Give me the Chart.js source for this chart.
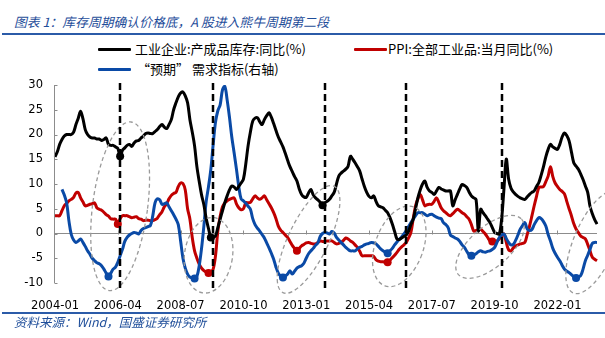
<!DOCTYPE html>
<html>
<head>
<meta charset="utf-8">
<script src="https://cdn.jsdelivr.net/npm/chart.js@4"></script>
<style>
  body { margin: 0; width: 605px; height: 338px; position: relative; overflow: hidden; background: #fff; }
  .txt { position: absolute; font-family: "Noto Sans CJK SC", sans-serif; white-space: nowrap; line-height: 16px; }
  .head { left: 14px; top: 14px; font-size: 12.8px; color: #1F4E9A; font-style: italic; }
  .foot { left: 14px; top: 314px; font-size: 12.5px; color: #1F4E9A; font-style: italic; }
  .rule { position: absolute; left: 2px; right: 0; height: 2px; background: #2B5BA8; }
  .key { position: absolute; width: 33px; height: 3px; border-radius: 1px; }
  .lab { font-size: 13px; color: #000; }
  #c { position: absolute; left: 0; top: 0; }
</style>
</head>
<body>
<div class="txt head">图表 1：库存周期确认价格底，A 股进入熊牛周期第二段</div>
<div class="rule" style="top:33px"></div>

<div class="key" style="left:98px;top:48px;background:#000"></div>
<div class="txt lab" style="left:135px;top:41px">工业企业:产成品库存:同比(%)</div>
<div class="key" style="left:354px;top:48px;background:#C00000"></div>
<div class="txt lab" style="left:388px;top:41px">PPI:全部工业品:当月同比(%)</div>
<div class="key" style="left:98px;top:68px;background:#0A4AA6"></div>
<div class="txt lab" style="left:137px;top:61px">“预期” 需求指标(右轴)</div>

<canvas id="c" width="605" height="338"></canvas>

<div class="rule" style="top:312px"></div>
<div class="txt foot">资料来源：Wind，国盛证券研究所</div>

<script>
// monthly, 2004-01 .. 2023-06
const months = [];
for (let yy = 2004; yy <= 2023; yy++) {
  for (let mm = 1; mm <= 12; mm++) {
    if (yy === 2023 && mm > 6) break;
    months.push(yy + '-' + String(mm).padStart(2, '0'));
  }
}
const tickLabels = ['2004-01', '2006-04', '2008-07', '2010-10', '2013-01', '2015-04', '2017-07', '2019-10', '2022-01'];

// 工业企业:产成品库存:同比
const inventory = [
  15.5, 16.5, 18, 19, 19.7, 20, 20, 20, 20.5, 22, 23.3, 24.7,
  23.2, 21, 20, 19.5, 19.3, 19.3, 19.1, 19.1, 18.8, 19, 19.3, 18,
  17.8, 17.8, 17.5, 17.2, 15.6, 16.8, 17.3, 17.8, 18, 17.6, 18.3, 18.7,
  18.8, 19.3, 19.7, 20.2, 20.3, 20.2, 20.2, 20.6, 21, 21.6, 22, 21.5,
  21.2, 22, 23, 25, 26.4, 27.6, 28.4, 28.6, 27.8, 26.4, 23, 20.5,
  17.7, 13.5, 10.5, 7.8, 5.8, 3, 1, -0.8, -0.8, -0.5, 1.2, 2.9,
  4.6, 6.2, 7.6, 8.8, 9.6, 9.4, 8.9, 9.5, 10.2, 11, 14, 17.7,
  20.5, 22.7, 23.3, 23.4, 22.6, 22, 23, 23.8, 24.4, 23.5, 22.2, 20.8,
  19.5, 18.5, 17.5, 16.2, 14.8, 13.5, 12.5, 11.5, 10.6, 9, 7.9, 7.4,
  7.3, 8.2, 8.9, 7.8, 7.2, 6.8, 6.3, 5.7, 6.2, 6.5, 6.9, 7.6,
  8.3, 10, 11.6, 12.2, 12.6, 13, 13.6, 15.6, 15, 14.3, 13.5, 12.6,
  11, 9.5, 8.3, 7.5, 7.2, 7.6, 6.5, 5.6, 5.4, 5.2, 4.7, 4.2,
  3.2, 1.9, 0.4, -1.1, -1.2, -0.9, -0.6, -0.3, 0.5, 1.8, 2.9, 5,
  7.2, 8.8, 10, 10.6, 9.3, 8.6, 8.3, 7.9, 8.6, 9.3, 9, 8.8,
  8.6, 8.6, 8.6, 5.6, 6.8, 7.9, 9, 9.9, 9.7, 9.3, 8.4, 7.6,
  7.2, 6.9, 0.5, 4.9, 4.2, 3.6, 2.9, 2.2, 1.2, 0.2, 0, -0.1,
  2.9, 9, 15, 11, 9.2, 8.4, 7.9, 7.5, 7.2, 7, 6.9, 7.4,
  7.9, 8.3, 8.6, 9.5, 10.3, 11.8, 13.5, 15.5, 17, 18, 17.5, 17.2,
  17, 18, 19.5, 20.3, 19.8, 18.7, 16.5, 14.3, 13.6, 13, 12, 10.9,
  9.6, 8.3, 5.5, 4, 2.8, 1.9
];

// PPI:全部工业品:当月同比
const ppi = [
  3.6, 3.6, 3.6, 4.6, 5.6, 6.1, 6.6, 6.9, 7.3, 8.2, 8.3, 7.2,
  6.4, 5.6, 5.7, 5.9, 6, 6.2, 5.2, 4.9, 4.7, 4.3, 3.8, 3.5,
  3, 2.9, 2.9, 1.9, 3, 3.6, 3.6, 3.6, 3.4, 3.2, 3.3, 3.4,
  3, 2.9, 2.6, 2.7, 2.7, 2.6, 2.6, 2.8, 3.1, 3.8, 4.4, 5.4,
  6, 7, 7.7, 8.1, 8.3, 9.5, 10.2, 10.1, 8.8, 5, 2.9, -0.8,
  -3.5, -5, -6.2, -7, -7.5, -7.8, -8, -7.8, -7.2, -4.5, 0.5, 3.5,
  5.4, 6.2, 6.6, 6.9, 7.1, 7.2, 6, 5.2, 4.8, 5, 6.2, 6.2,
  6.3, 7, 7.6, 7.2, 6.9, 7.2, 7.6, 6.8, 6, 5.2, 4.2, 3,
  1.5, 0.7, 0.2, -0.3, -0.8, -1.6, -2.4, -3, -3.5, -3, -2.5, -2.2,
  -1.9, -1.8, -2, -2.1, -2.1, -1.8, -1.5, -1.6, -1.6, -1.5, -1.5, -1.5,
  -1.8, -2.1, -2, -1.8, -1.4, -0.9, -1.1, -1.5, -1.8, -2.3, -2.8, -3.6,
  -4.5, -4.5, -4.5, -4.5, -4.5, -4.6, -5.3, -5.6, -5.7, -5.7, -5.8, -5.8,
  -5.4, -4.9, -4.4, -3.8, -3.2, -2.7, -2.3, -1.8, -0.9, 0.2, 3, 5.6,
  7, 7.9, 6.8, 5.6, 5.8, 5.9, 5.9, 6.5, 7.2, 6.3, 5.2, 4.6,
  4.2, 3.8, 3.6, 4, 4.5, 4.9, 4.6, 4.2, 3.9, 3.4, 2.9, 1.8,
  0.5, 0.6, 0.8, 0.9, 0.4, -0.1, -0.8, -1.5, -1.6, -1.8, -1.5, -1.1,
  -0.5, -0.1, -1.8, -3.3, -3.5, -2.9, -2.5, -2.3, -2.1, -2, -1.8, -0.2,
  1.5, 3.5, 5.6, 7.5, 9.3, 9.4, 9.5, 10.5, 11.6, 13.5, 11.5, 10.2,
  9.5, 8.9, 8.5, 8, 6.5, 5, 3.6, 2, 0.9, 0.2, -0.5, -0.8,
  -1.1, -2.2, -3.5, -4.8, -5.2, -5.5
];

// “预期”需求指标(右轴)
const demand = [
  null, null, null, 8.9, 7.8, 6.2, 2.5, -0.2, -1.3, -1.8, -1.5, -1.1,
  -1.8, -2.6, -3.5, -4.2, -5, -5.5, -5.9, -6.1, -6.5, -7.2, -8, -8.7,
  -8, -7.2, -6.8, -5.8, -4.5, -3.2, -1.6, -0.8, -0.3, 0, 0.2, 0.1,
  -0.1, 0.6, 1, 1.2, 1.4, 1.6, 3.5, 6.2, 7, 6.8, 5.9, 6,
  6.2, 5.4, 4.6, 3.8, 2.9, 1.8, -1.5, -5, -7, -8.2, -8.8, -9,
  -9.1, -8.7, -6.5, -3, 1.5, 6.5, 9.5, 13, 18, 22.5, 24.8, 26,
  29, 29.7, 27, 23.5, 19.5, 16.3, 13, 9.5, 7, 6.6, 6.1, 5.5,
  4.9, 3, 1.8, 1.1, 0.5, -0.2, -0.9, -1.9, -2.9, -4, -5.2, -6.8,
  -8, -8.6, -8.9, -8.6, -8.2, -7.5, -8.2, -7.6, -7, -6.7, -6.5, -6,
  -5, -4.1, -3.5, -3, -2.4, -1.9, -0.6, 0, 0.2, 0.1, -0.1, 0.4,
  0.1, -0.8, -1.3, -1.8, -2.3, -2.8, -3.2, -3.5, -3.5, -3.5, -3.1, -2.8,
  -2.6, -2.3, -2.1, -2, -1.8, -1.9, -2.1, -2.6, -3.1, -3.5, -3.8, -4,
  -3.5, -3, -2.3, -1.7, -1.2, -0.7, -0.1, 0.6, 1.4, 2.2, 2.9, 3.6,
  4.2, 4.2, 4.2, 3.9, 3.6, 3.8, 3.9, 3.6, 3.3, 3.1, 3, 2.2,
  1.8, 1.2, -0.3, -0.6, -0.9, -1.1, -1.6, -2.3, -2.8, -3.6, -4.3, -4.5,
  -4.3, -4.1, -3.7, -3.5, -3.7, -3.8, -3.6, -3.5, -3.2, -2.8, -1.8, -0.8,
  -0.3, -0.1, -1, -1.8, -2.3, -2.2, -1.4, -0.3, 0.9, 1.6, 2.2, 0.9,
  0.6, 0.8, 1.8, 2.6, 3.2, 3, 2.4, 1.5, -0.2, -1.5, -3, -4,
  -4.8, -5.5, -6.4, -7.2, -7.6, -7.9, -8.3, -8.7, -9, -8.8, -8.5, -7.2,
  -5.5, -4.4, -3.2, -2, -1.8, -1.8
];

// marked troughs (month index) for each series
const inventoryLows = [28, 67, 115];
const ppiLows = [27, 66, 104, 143, 188];
const demandLows = [23, 60, 98, 143, 179, 224];

// dashed cycle lines (month index)
const cycleMarks = [28, 68, 116, 151, 192];

// dashed rings around the troughs: anchored at month index / value
const rings = [
  { at: 28, value: 5.5, rx: 27.5, ry: 85, rot: 0.13 },
  { at: 66, value: -4.4, rx: 24, ry: 38, rot: 0.15 },
  { at: 109, value: -1.2, rx: 20, ry: 59, rot: 0.45 },
  { at: 148, value: -2.6, rx: 24, ry: 42, rot: 0.35 },
  { at: 187, value: -2.7, rx: 42, ry: 20, rot: -0.72 },
  { at: 232, value: -1.8, rx: 21, ry: 55, rot: 0.4 }
];

const dot = lows => ctx => lows.includes(ctx.dataIndex) ? 4 : 0;

const overlay = {
  id: 'overlay',
  afterDatasetsDraw(chart) {
    const { ctx, chartArea: a, scales: { x, y } } = chart;
    ctx.save();
    ctx.strokeStyle = '#9a9a9a';
    ctx.lineWidth = 1.3;
    ctx.setLineDash([4, 3]);
    rings.forEach(r => {
      ctx.beginPath();
      ctx.ellipse(x.getPixelForValue(r.at), y.getPixelForValue(r.value), r.rx, r.ry, r.rot, 0, Math.PI * 2);
      ctx.stroke();
    });

    ctx.strokeStyle = '#000';
    ctx.lineWidth = 2.5;
    ctx.setLineDash([7, 4]);
    cycleMarks.forEach(i => {
      const px = Math.round(x.getPixelForValue(i));
      ctx.beginPath();
      ctx.moveTo(px, a.top - 2);
      ctx.lineTo(px, a.bottom + 6);
      ctx.stroke();
    });

    // left axis with inner ticks, and ticks on the zero line
    ctx.setLineDash([]);
    ctx.strokeStyle = '#8c8c8c';
    ctx.lineWidth = 1;
    const ax = Math.round(a.left) - 0.5;
    ctx.beginPath();
    ctx.moveTo(ax, a.top);
    ctx.lineTo(ax, a.bottom);
    y.ticks.forEach(t => {
      const py = Math.round(y.getPixelForValue(t.value)) + 0.5;
      ctx.moveTo(ax, py);
      ctx.lineTo(ax + 3, py);
    });
    const y0 = Math.round(y.getPixelForValue(0)) + 0.5;
    months.forEach((m, i) => {
      if (tickLabels.includes(m) && i > 0) {
        const px = Math.round(x.getPixelForValue(i)) + 0.5;
        ctx.moveTo(px, y0);
        ctx.lineTo(px, y0 - 4);
      }
    });
    ctx.stroke();
    ctx.restore();
  }
};

new Chart(document.getElementById('c'), {
  type: 'line',
  data: {
    labels: months,
    datasets: [
      {
        label: '工业企业:产成品库存:同比(%)',
        data: inventory,
        borderColor: '#000',
        backgroundColor: '#000',
        borderWidth: 3,
        pointRadius: dot(inventoryLows),
        pointBorderWidth: 0,
        tension: 0.35
      },
      {
        label: '“预期” 需求指标(右轴)',
        data: demand,
        borderColor: '#0A4AA6',
        backgroundColor: '#0A4AA6',
        borderWidth: 3,
        pointRadius: dot(demandLows),
        pointBorderWidth: 0,
        tension: 0.35
      },
      {
        label: 'PPI:全部工业品:当月同比(%)',
        data: ppi,
        borderColor: '#C00000',
        backgroundColor: '#C00000',
        borderWidth: 3,
        pointRadius: dot(ppiLows),
        pointBorderWidth: 0,
        tension: 0.35
      }
    ]
  },
  options: {
    responsive: false,
    animation: false,
    devicePixelRatio: 1,
    layout: { padding: { top: 85, left: 0, right: 0, bottom: 25 } },
    plugins: { legend: { display: false }, tooltip: { enabled: false } },
    scales: {
      x: {
        grid: { display: false },
        border: { display: false },
        afterFit: s => { s.height = 30; },
        ticks: {
          autoSkip: false,
          maxRotation: 0,
          padding: 8,
          color: '#000',
          font: { family: 'DejaVu Sans', size: 11.5 },
          callback: function (v) {
            const m = this.getLabelForValue(v);
            return tickLabels.includes(m) ? m : '';
          }
        }
      },
      y: {
        min: -10,
        max: 30,
        afterFit: s => { s.width = 55; },
        border: { display: false },
        grid: {
          drawTicks: false,
          color: c => c.tick && c.tick.value === 0 ? '#8c8c8c' : 'rgba(0,0,0,0)'
        },
        ticks: {
          stepSize: 5,
          padding: 12,
          color: '#000',
          font: { family: 'DejaVu Sans', size: 11.5 }
        }
      }
    }
  },
  plugins: [overlay]
});
</script>
</body>
</html>
